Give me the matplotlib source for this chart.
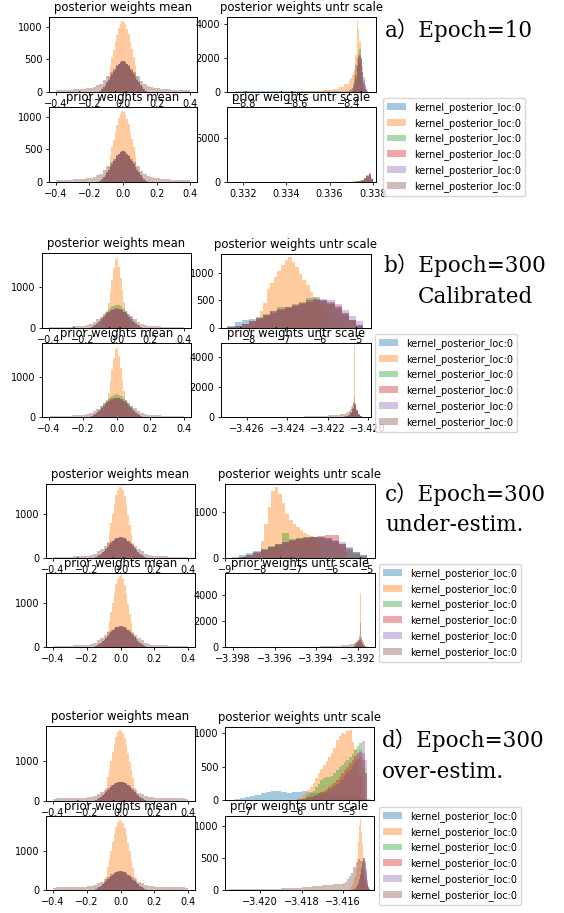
import matplotlib
matplotlib.use('Agg')
import matplotlib.pyplot as plt
import numpy as np

# each series: list of (bin_lo, bin_hi, counts)
# ---- a) epoch 10 ----
a_mean_orange = [(-0.13, 0.13, [20, 40, 80, 140, 230, 420, 540, 650, 770, 880, 980, 1050, 1090,
                                1080, 1040, 970, 890, 760, 660, 530, 410, 230, 150, 75, 40, 20])]
a_mean_core = [(-0.14, 0.14, [15, 40, 75, 110, 150, 190, 235, 275, 315, 355, 395, 430, 455, 470,
                              470, 455, 430, 395, 355, 315, 275, 235, 190, 150, 110, 75, 40, 15])]
a_mean_brown = [(-0.4, 0.4, [30, 35, 35, 38, 36, 40, 42, 45, 50, 55, 65, 80, 100, 130, 180, 240, 300, 360, 420, 460,
                             462, 418, 355, 302, 238, 176, 128, 98, 82, 66, 54, 48, 44, 41, 38, 37, 36, 34, 33, 30])]

a_scale_blue = [(-8.84, -8.40, [50, 55, 60, 60, 65, 60, 55, 50, 50, 60, 80]),
                (-8.40, -8.32, [100, 150, 250, 400, 650, 1000, 1500, 1900, 2000, 1700, 1200, 700, 350, 150, 60, 20])]
a_scale_orange = [(-8.60, -8.40, [25, 30, 40, 50, 65, 90, 130, 200, 300, 480]),
                  (-8.40, -8.34, [650, 850, 1000, 1150, 1350, 2200, 4180, 3700, 3000, 2000, 800, 200])]
a_scale_green = [(-8.39, -8.33, [80, 200, 450, 900, 1600, 2300, 2550, 2000, 1200, 500, 150, 40])]
a_scale_red = [(-8.39, -8.33, [60, 150, 350, 750, 1400, 2000, 2200, 1900, 1200, 550, 180, 50])]
a_scale_purple = [(-8.39, -8.32, [50, 120, 300, 650, 1200, 1800, 2100, 2000, 1500, 900, 400, 150, 60, 20])]
a_scale_brown = [(-8.40, -8.33, [40, 100, 250, 550, 1000, 1600, 2000, 2100, 1700, 1000, 450, 150, 50, 20])]

a_prior_blue = [(0.3316, 0.3380, [5, 5, 5, 5, 8, 10, 20, 60])]
a_prior_orange = [(0.3375, 0.3380, [100, 300, 600, 900, 200])]
a_prior_green = [(0.3374, 0.3380, [80, 200, 400, 700, 850, 250])]
a_prior_red = [(0.3372, 0.3380, [40, 80, 150, 250, 450, 750, 1000, 400])]
a_prior_purple = [(0.3374, 0.3380, [60, 150, 300, 550, 800, 300])]
a_prior_brown = [(0.3368, 0.3380, [20, 30, 40, 60, 80, 120, 180, 280, 450, 700, 950, 300])]

# ---- b) epoch 300 calibrated ----
b_mean_orange = [(-0.1, 0.1, [20, 50, 110, 220, 380, 600, 880, 1180, 1460, 1690,
                              1730, 1500, 1220, 920, 640, 410, 240, 120, 55, 20])]
b_mean_core = [(-0.16, 0.16, [10, 25, 45, 70, 100, 140, 180, 225, 270, 315, 355, 395, 425, 450, 468, 478,
                              480, 470, 452, 428, 398, 358, 318, 272, 228, 182, 142, 102, 72, 46, 25, 10])]
b_mean_green = [(-0.16, 0.16, [12, 30, 52, 82, 117, 164, 210, 263, 316, 368, 415, 462, 497, 527, 548, 560,
                               562, 550, 529, 500, 465, 418, 372, 318, 267, 213, 166, 119, 84, 54, 29, 12])]
b_mean_brown = [(-0.4, 0.4, [25, 28, 30, 30, 32, 34, 36, 38, 40, 45, 55, 70, 100, 150, 210, 280, 340, 400, 445, 470,
                             468, 440, 396, 338, 282, 212, 148, 98, 72, 56, 46, 41, 38, 35, 34, 32, 30, 29, 27, 24])]

b_scale_blue = [(-8.6, -4.8, [40, 110, 150, 170, 200, 240, 280, 320, 360, 400, 440, 480, 500, 490, 440, 360, 250, 140, 50])]
b_scale_orange = [(-8.2, -5.8, [20, 40, 60, 80, 120, 300, 460, 700, 820, 920, 1030, 1140, 1230, 1290,
                                1200, 1100, 980, 880, 780, 650, 560, 510, 420, 250])]
b_scale_green = [(-8.6, -4.8, [10, 40, 80, 130, 190, 250, 300, 380, 390, 430, 470, 550, 560, 500, 430, 340, 220, 110, 30])]
b_scale_red = [(-8.6, -4.8, [10, 40, 80, 130, 180, 240, 300, 350, 380, 420, 460, 500, 520, 510, 470, 400, 280, 140, 40])]
b_scale_purple = [(-8.6, -4.8, [10, 30, 70, 120, 170, 230, 290, 340, 380, 420, 460, 500, 530, 530, 500, 440, 330, 220, 120])]
b_scale_brown = [(-8.6, -4.8, [10, 40, 80, 120, 170, 220, 270, 320, 360, 400, 440, 480, 500, 490, 450, 380, 270, 150, 50])]

b_prior_blue = [(-3.4212, -3.4202, [30, 60, 120, 250, 500, 700, 400, 150, 50, 15])]
b_prior_orange = [(-3.4212, -3.4202, [10, 15, 20, 30, 50, 80, 120, 200, 400, 900, 4730, 800, 300, 150, 80, 40, 20, 10, 5, 5])]
b_prior_green = [(-3.4212, -3.4202, [30, 70, 140, 280, 550, 800, 450, 170, 60, 20])]
b_prior_red = [(-3.4212, -3.4202, [40, 80, 150, 300, 600, 850, 480, 180, 60, 20])]
b_prior_purple = [(-3.4212, -3.4202, [30, 60, 130, 270, 520, 780, 430, 160, 50, 15])]
b_prior_brown = [(-3.4250, -3.4212, [5, 8, 10, 12, 15, 18, 20, 25, 30, 35, 40, 50, 60, 70, 80, 100, 120, 150, 180]),
                 (-3.4212, -3.4202, [200, 230, 260, 300, 350, 420, 520, 650, 800, 1000, 1330, 900, 500, 300, 180, 100, 60, 30, 15, 5])]

# ---- c) epoch 300 under-estimated ----
c_mean_orange = [(-0.12, 0.12, [30, 60, 110, 200, 360, 560, 790, 1010, 1230, 1420, 1550, 1610,
                                1650, 1540, 1400, 1200, 980, 760, 540, 350, 200, 110, 60, 30])]
c_mean_core = [(-0.16, 0.16, [10, 22, 40, 65, 95, 130, 170, 215, 260, 305, 345, 385, 418, 445, 462, 470,
                              472, 463, 446, 420, 388, 348, 308, 262, 218, 172, 132, 97, 66, 41, 22, 10])]
c_mean_brown = [(-0.4, 0.4, [25, 25, 28, 30, 30, 32, 35, 38, 40, 45, 55, 70, 100, 150, 205, 270, 330, 390, 440, 465,
                             466, 438, 392, 328, 268, 208, 148, 102, 72, 54, 46, 41, 37, 35, 33, 30, 29, 27, 26, 24])]

c_scale_blue = [(-8.8, -5.0, [30, 60, 100, 150, 200, 250, 300, 350, 400, 430, 450, 460, 450, 420, 380, 300, 210, 130, 60])]
c_scale_orange = [(-8.1, -6.3, [80, 380, 750, 1100, 1450, 1540, 1400, 1200, 950, 820, 740, 680, 620, 540, 500, 470, 440, 300])]
c_scale_green = [(-8.8, -5.0, [10, 30, 70, 130, 190, 260, 300, 540, 420, 440, 450, 450, 440, 400, 330, 250, 160, 80, 30])]
c_scale_red = [(-8.8, -5.6, [10, 30, 60, 110, 170, 230, 290, 340, 380, 410, 430, 450, 480, 490, 500, 300])]
c_scale_purple = [(-8.8, -5.0, [10, 25, 60, 110, 170, 230, 290, 340, 380, 410, 430, 440, 440, 430, 400, 350, 240, 140, 60])]
c_scale_brown = [(-8.8, -5.0, [10, 30, 70, 120, 180, 240, 300, 350, 390, 420, 440, 450, 450, 430, 380, 300, 200, 110, 40])]

c_prior_blue = [(-3.3922, -3.3916, [100, 180, 260, 340, 420, 480, 520, 400, 250, 120, 50, 15])]
c_prior_orange = [(-3.3922, -3.3916, [20, 40, 80, 150, 300, 700, 4150, 800, 200, 60, 20, 5])]
c_prior_green = [(-3.3922, -3.3916, [110, 200, 280, 360, 430, 500, 560, 420, 260, 130, 50, 15])]
c_prior_red = [(-3.3922, -3.3916, [120, 210, 300, 380, 450, 520, 580, 430, 270, 140, 55, 15])]
c_prior_purple = [(-3.3922, -3.3916, [100, 190, 270, 350, 430, 490, 540, 410, 250, 120, 50, 15])]
c_prior_brown = [(-3.3944, -3.3922, [15, 25, 35, 45, 55, 70, 85, 100, 120, 150, 200]),
                 (-3.3922, -3.3915, [280, 350, 420, 500, 560, 900, 1850, 800, 500, 350, 200, 100, 40, 10])]

# ---- d) epoch 300 over-estimated ----
d_mean_orange = [(-0.13, 0.13, [30, 60, 120, 200, 330, 590, 790, 1000, 1220, 1420, 1600, 1720, 1775,
                                1760, 1690, 1570, 1400, 1190, 980, 770, 570, 330, 200, 120, 60, 30])]
d_mean_core = [(-0.16, 0.16, [12, 25, 45, 72, 105, 142, 182, 225, 270, 313, 353, 392, 425, 450, 467, 476,
                              475, 466, 448, 422, 390, 350, 310, 266, 222, 180, 140, 103, 70, 44, 24, 11])]
d_mean_brown = [(-0.4, 0.4, [60, 65, 70, 70, 72, 75, 75, 78, 80, 85, 90, 100, 125, 165, 215, 275, 335, 395, 440, 470,
                             472, 438, 392, 332, 276, 212, 168, 122, 102, 92, 84, 80, 77, 74, 73, 71, 70, 68, 64, 58])]

d_scale_blue = [(-7.2, -4.6, [10, 25, 45, 60, 80, 100, 120, 130, 135, 120, 105, 115, 125, 130, 120, 110,
                              100, 90, 80, 70, 60, 55, 50, 40, 30, 20])]
d_scale_orange = [(-6.0, -4.75, [30, 50, 70, 100, 150, 200, 260, 330, 400, 460, 520, 580, 640, 700, 780,
                                 900, 960, 1000, 990, 1030, 1045, 870, 760, 600, 350])]
d_scale_green = [(-5.9, -4.7, [20, 40, 70, 100, 140, 190, 240, 300, 330, 340, 350, 360, 400, 450, 490,
                               530, 570, 600, 640, 690, 740, 800, 850, 500])]
d_scale_red = [(-5.9, -4.65, [10, 20, 30, 45, 60, 80, 100, 120, 140, 160, 190, 220, 260, 300, 350, 400,
                              450, 500, 550, 600, 650, 700, 720, 700, 400])]
d_scale_purple = [(-5.8, -4.65, [10, 20, 30, 40, 55, 70, 90, 110, 130, 150, 180, 210, 250, 290, 340, 390,
                                 450, 520, 600, 680, 750, 880, 600])]
d_scale_brown = [(-6.0, -4.65, [10, 15, 20, 30, 40, 50, 60, 75, 90, 105, 120, 140, 160, 180, 210, 240, 280,
                                320, 370, 420, 470, 520, 570, 610, 640, 600, 400])]

d_prior_blue = [(-3.4155, -3.4147, [10, 20, 40, 60, 100, 150, 220, 320, 420, 480, 450, 350, 220, 100, 40, 10])]
d_prior_orange = [(-3.4157, -3.4147, [10, 20, 40, 70, 120, 200, 320, 500, 750, 1000, 1110, 900, 700, 400, 200, 100, 40, 20, 10, 5])]
d_prior_green = [(-3.4155, -3.4147, [10, 20, 40, 70, 110, 170, 250, 350, 450, 500, 420, 300, 180, 80, 30, 10])]
d_prior_red = [(-3.4155, -3.4147, [10, 20, 40, 70, 110, 170, 250, 340, 430, 490, 500, 420, 280, 120, 40, 10])]
d_prior_purple = [(-3.4155, -3.4147, [10, 20, 35, 60, 100, 160, 240, 330, 420, 480, 500, 450, 320, 150, 50, 10])]
d_prior_brown = [(-3.4215, -3.4160, [8, 10, 12, 15, 20, 25, 35, 45, 60, 75, 95]),
                 (-3.4160, -3.4147, [110, 130, 170, 220, 270, 350, 430, 480, 450, 300, 150, 60, 15])]

TITLES = ['posterior weights mean', 'posterior weights untr scale',
          'prior weights mean', 'prior weights untr scale']
LABEL = 'kernel_posterior_loc:0'
COLORS = ['tab:blue', 'tab:orange', 'tab:green', 'tab:red', 'tab:purple', 'tab:brown']
mean_ticks = [-0.4, -0.2, 0.0, 0.2, 0.4]

W, H = 564, 913

plt.rcParams.update({
    'font.size': 7, 'axes.titlesize': 8.4, 'axes.titlepad': 4.2,
    'xtick.labelsize': 7, 'ytick.labelsize': 7, 'legend.fontsize': 7,
    'xtick.major.size': 2.45, 'ytick.major.size': 2.45,
    'xtick.major.width': 0.6, 'ytick.major.width': 0.6,
    'xtick.major.pad': 2.45, 'ytick.major.pad': 2.45,
    'axes.linewidth': 0.7, 'axes.formatter.useoffset': False,
})

fig = plt.figure(figsize=(W / 100, H / 100), dpi=100)


def add_ax(box):
    l, t, r, b = box
    return fig.add_axes([l / W, 1 - b / H, (r - l) / W, (b - t) / H])


def draw(ax, series, title, xlim, ylim, xticks, yticks):
    for color, segs in zip(COLORS, series):
        for k, (lo, hi, counts) in enumerate(segs):
            edges = np.linspace(lo, hi, len(counts) + 1)
            mids = (edges[:-1] + edges[1:]) / 2
            ax.hist(mids, bins=edges, weights=counts, histtype='stepfilled',
                    color=color, alpha=0.4, label=LABEL if k == 0 else None)
    ax.set_title(title)
    ax.set_xlim(*xlim)
    ax.set_ylim(*ylim)
    ax.set_xticks(xticks)
    ax.set_yticks(yticks)


panels = [
    dict(boxes=[(49, 17, 197, 92), (227, 17, 376, 92), (49, 107, 197, 182), (227, 107, 376, 182)],
         mean=[a_mean_core, a_mean_orange, a_mean_core, a_mean_core, a_mean_core, a_mean_brown],
         scale=[a_scale_blue, a_scale_orange, a_scale_green, a_scale_red, a_scale_purple, a_scale_brown],
         prior=[a_prior_blue, a_prior_orange, a_prior_green, a_prior_red, a_prior_purple, a_prior_brown],
         mean_ylim=(0, 1150), mean_yt=[0, 500, 1000],
         scale_xlim=(-8.87, -8.296), scale_xt=[-8.8, -8.6, -8.4], scale_ylim=(0, 4410), scale_yt=[0, 2000, 4000],
         prior_xlim=(0.33127, 0.33814), prior_xt=[0.332, 0.334, 0.336, 0.338], prior_ylim=(0, 8520), prior_yt=[0, 5000],
         legend=(383, 98), texts=[('a）Epoch=10', 385, 30)]),
    dict(boxes=[(42, 253, 191, 328), (221, 254, 371, 328), (42, 343, 191, 417), (221, 343, 371, 417)],
         mean=[b_mean_core, b_mean_orange, b_mean_green, b_mean_core, b_mean_core, b_mean_brown],
         scale=[b_scale_blue, b_scale_orange, b_scale_green, b_scale_red, b_scale_purple, b_scale_brown],
         prior=[b_prior_blue, b_prior_orange, b_prior_green, b_prior_red, b_prior_purple, b_prior_brown],
         mean_ylim=(0, 1830), mean_yt=[0, 1000],
         scale_xlim=(-8.78, -4.58), scale_xt=[-8, -7, -6, -5], scale_ylim=(0, 1345), scale_yt=[0, 500, 1000],
         prior_xlim=(-3.4273, -3.41985), prior_xt=[-3.426, -3.424, -3.422, -3.420], prior_ylim=(0, 4930),
         prior_yt=[0, 2000, 4000],
         legend=(375, 334), texts=[('b）Epoch=300', 383, 265), ('Calibrated', 418, 297)]),
    dict(boxes=[(46, 484, 195, 558), (225, 484, 375, 558), (46, 573, 195, 647), (225, 573, 375, 647)],
         mean=[c_mean_core, c_mean_orange, c_mean_core, c_mean_core, c_mean_core, c_mean_brown],
         scale=[c_scale_blue, c_scale_orange, c_scale_green, c_scale_red, c_scale_purple, c_scale_brown],
         prior=[c_prior_blue, c_prior_orange, c_prior_green, c_prior_red, c_prior_purple, c_prior_brown],
         mean_ylim=(0, 1680), mean_yt=[0, 1000],
         scale_xlim=(-9.0, -4.78), scale_xt=[-9, -8, -7, -6, -5], scale_ylim=(0, 1610), scale_yt=[0, 1000],
         prior_xlim=(-3.39838, -3.39118), prior_xt=[-3.398, -3.396, -3.394, -3.392], prior_ylim=(0, 5690),
         prior_yt=[0, 2000, 4000],
         legend=(379, 564), texts=[('c）Epoch=300', 385, 494), ('under-estim.', 385, 525)]),
    dict(boxes=[(46, 726, 195, 801), (225, 727, 374, 800), (46, 816, 195, 890), (225, 816, 374, 890)],
         mean=[d_mean_core, d_mean_orange, d_mean_core, d_mean_core, d_mean_core, d_mean_brown],
         scale=[d_scale_blue, d_scale_orange, d_scale_green, d_scale_red, d_scale_purple, d_scale_brown],
         prior=[d_prior_blue, d_prior_orange, d_prior_green, d_prior_red, d_prior_purple, d_prior_brown],
         mean_ylim=(0, 1875), mean_yt=[0, 1000],
         scale_xlim=(-7.385, -4.52), scale_xt=[-7, -6, -5], scale_ylim=(0, 1090), scale_yt=[0, 500, 1000],
         prior_xlim=(-3.42169, -3.41451), prior_xt=[-3.420, -3.418, -3.416], prior_ylim=(0, 1150),
         prior_yt=[0, 500, 1000],
         legend=(379, 807), texts=[('d）Epoch=300', 382, 740), ('over-estim.', 382, 772)]),
]

for p in panels:
    ax_tl, ax_tr, ax_bl, ax_br = [add_ax(b) for b in p['boxes']]
    draw(ax_tl, p['mean'], TITLES[0], (-0.44, 0.44), p['mean_ylim'], mean_ticks, p['mean_yt'])
    draw(ax_tr, p['scale'], TITLES[1], p['scale_xlim'], p['scale_ylim'], p['scale_xt'], p['scale_yt'])
    draw(ax_bl, p['mean'], TITLES[2], (-0.44, 0.44), p['mean_ylim'], mean_ticks, p['mean_yt'])
    draw(ax_br, p['prior'], TITLES[3], p['prior_xlim'], p['prior_ylim'], p['prior_xt'], p['prior_yt'])

    handles, labels = ax_br.get_legend_handles_labels()
    lx, ly = p['legend']
    fig.legend(handles, labels, loc='upper left', bbox_to_anchor=(lx / W, 1 - ly / H), borderaxespad=0)

    for s, x, y in p['texts']:
        fig.text(x / W, 1 - y / H, s, fontsize=15.5, family=['DejaVu Serif', 'Noto Sans CJK SC'],
                 ha='left', va='center')

fig.savefig('out.png', dpi=100)
